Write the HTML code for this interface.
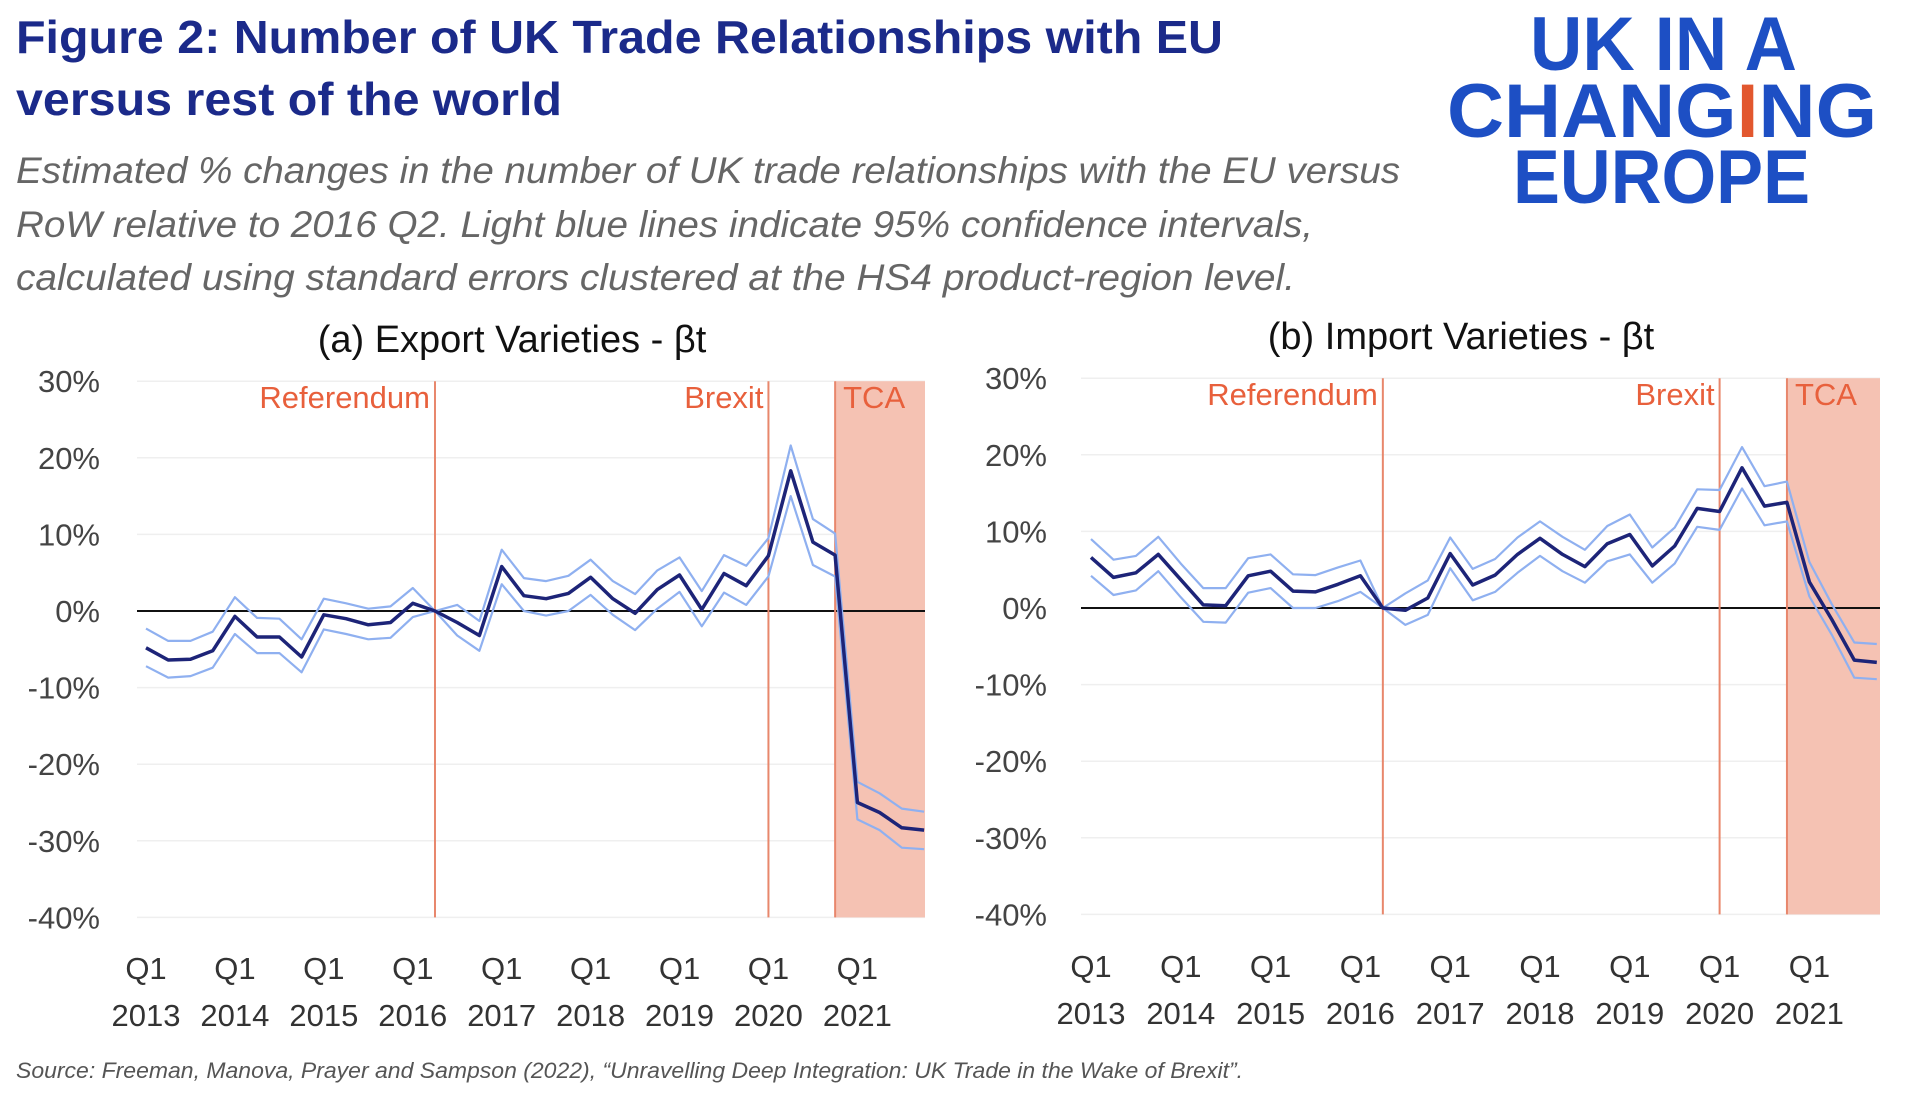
<!DOCTYPE html>
<html><head><meta charset="utf-8"><style>
html,body{margin:0;padding:0;background:#fff;}
svg{display:block;font-family:"Liberation Sans",sans-serif;}
</style></head><body>
<svg id="fig" width="1920" height="1110" viewBox="0 0 1920 1110">
<g>
<text x="16" y="53" font-size="46" font-weight="bold" fill="#1b2a8a" textLength="1207" lengthAdjust="spacingAndGlyphs">Figure 2: Number of UK Trade Relationships with EU</text>
<text x="16" y="115" font-size="46" font-weight="bold" fill="#1b2a8a" textLength="546" lengthAdjust="spacingAndGlyphs">versus rest of the world</text>
<text x="16" y="183" font-size="37" font-style="italic" fill="#666" textLength="1384" lengthAdjust="spacingAndGlyphs">Estimated % changes in the number of UK trade relationships with the EU versus</text>
<text x="16" y="237" font-size="37" font-style="italic" fill="#666" textLength="1297" lengthAdjust="spacingAndGlyphs">RoW relative to 2016 Q2. Light blue lines indicate 95% confidence intervals,</text>
<text x="16" y="290" font-size="37" font-style="italic" fill="#666" textLength="1279" lengthAdjust="spacingAndGlyphs">calculated using standard errors clustered at the HS4 product-region level.</text>
</g>
<g font-weight="bold" fill="#1d4fc4">
<text x="1530" y="70" font-size="76" textLength="267" lengthAdjust="spacingAndGlyphs">UK IN A</text>
<text x="1447" y="137" font-size="76" textLength="430" lengthAdjust="spacingAndGlyphs">CHANG<tspan fill="#e2572e">I</tspan>NG</text>
<text x="1513" y="203" font-size="76" textLength="297" lengthAdjust="spacingAndGlyphs">EUROPE</text>
</g>
<g id="chartA"></g>
<g id="chartB"></g>
<text x="16" y="1078" font-size="22" font-style="italic" fill="#555" textLength="1227" lengthAdjust="spacingAndGlyphs">Source: Freeman, Manova, Prayer and Sampson (2022), “Unravelling Deep Integration: UK Trade in the Wake of Brexit”.</text>
</svg>
<script>
const yTicks = [30, 20, 10, 0, -10, -20, -30, -40];
const yearLabels = ["2013","2014","2015","2016","2017","2018","2019","2020","2021"];
const exportMain = [-4.8,-6.4,-6.3,-5.2,-0.7,-3.4,-3.4,-6.0,-0.5,-1.0,-1.8,-1.5,1.0,0,-1.5,-3.2,5.8,2.0,1.6,2.3,4.4,1.6,-0.3,2.8,4.7,0.2,4.9,3.3,7.2,18.3,9.0,7.3,-25.0,-26.3,-28.3,-28.6];
const exportUpper = [-2.3,-3.9,-3.9,-2.7,1.8,-0.9,-1.0,-3.7,1.6,1.0,0.3,0.6,3.0,0,0.8,-1.3,8.0,4.3,3.9,4.6,6.7,3.9,2.2,5.3,7.0,2.6,7.3,5.9,9.5,21.6,12.0,10.1,-22.3,-23.8,-25.8,-26.2];
const exportLower = [-7.2,-8.7,-8.5,-7.4,-3.0,-5.5,-5.5,-8.0,-2.4,-3.0,-3.7,-3.5,-0.8,0,-3.2,-5.2,3.5,0.0,-0.6,0.0,2.1,-0.5,-2.5,0.3,2.5,-2.0,2.4,0.8,4.5,15.0,6.0,4.5,-27.2,-28.6,-30.9,-31.1];
const importMain = [6.6,4.0,4.6,7.0,3.7,0.4,0.3,4.2,4.8,2.2,2.1,3.1,4.2,0,-0.3,1.3,7.1,3.0,4.3,7.0,9.1,7.0,5.4,8.4,9.6,5.5,8.1,13.0,12.6,18.3,13.3,13.8,3.4,-1.5,-6.8,-7.1];
const importUpper = [9.0,6.3,6.8,9.3,5.8,2.6,2.6,6.5,7.0,4.4,4.3,5.3,6.2,0,1.9,3.6,9.2,5.1,6.4,9.2,11.3,9.3,7.6,10.7,12.2,7.9,10.5,15.5,15.4,21.0,15.9,16.5,6.0,0.5,-4.5,-4.7];
const importLower = [4.2,1.7,2.3,4.8,1.4,-1.8,-1.9,2.0,2.6,0.0,0.0,0.9,2.1,0,-2.2,-0.9,5.2,1.0,2.1,4.6,6.8,4.8,3.3,6.1,7.0,3.3,5.8,10.6,10.2,15.6,10.8,11.3,1.5,-3.5,-9.1,-9.3];
const eventNames = ["Referendum","Brexit","TCA"];
const eventQuarters = [13, 28, 31];

const NS = "http://www.w3.org/2000/svg";
function mk(parent, tag, attrs, text){
  const e = document.createElementNS(NS, tag);
  for (const k in attrs) e.setAttribute(k, attrs[k]);
  if (text !== undefined) e.textContent = text;
  parent.appendChild(e);
  return e;
}
function drawChart(g, cfg){
  const xS = q => cfg.x0 + q * cfg.dq;
  const yS = v => cfg.yZero - v * cfg.dy;
  const right = cfg.right;
  yTicks.forEach(t => {
    if (t !== 0) {
      const l = mk(g, "line", {x1: cfg.left, x2: right, y1: yS(t), y2: yS(t), stroke: "#efefef", "stroke-width": 1.5});
      
      
    }
    const tx = mk(g, "text", {x: cfg.tickRight, y: yS(t) + 11, "text-anchor": "end", "font-size": 31, fill: "#444"}, t + "%");
    
    
  });
  const sh = mk(g, "rect", {x: xS(eventQuarters[2]), y: yS(30), width: right - xS(eventQuarters[2]), height: yS(-40) - yS(30), fill: "#f5c2b3"});
  
  
  const z = mk(g, "line", {x1: cfg.left, x2: right, y1: yS(0), y2: yS(0), stroke: "#111", "stroke-width": 2});
  
  
  eventQuarters.forEach((q, i) => {
    const l = mk(g, "line", {x1: xS(q), x2: xS(q), y1: yS(30), y2: yS(-40), stroke: "#e8876c", "stroke-width": 2});
    
    
    const isT = i === 2;
    const tx = mk(g, "text", {x: isT ? xS(q) + 8 : xS(q) - 5, y: yS(30) + 27, "text-anchor": isT ? "start" : "end", "font-size": 31, fill: "#e8603c"}, eventNames[i]);
    
    
  });
  const path = arr => arr.map((v, i) => (i ? "L" : "M") + xS(i).toFixed(1) + "," + yS(v).toFixed(1)).join(" ");
  [cfg.upper, cfg.lower].forEach((arr, k) => {
    const p = mk(g, "path", {d: path(arr), fill: "none", stroke: "#8fb0f0", "stroke-width": 2.2, "stroke-linejoin": "round"});
    
    
  });
  const m = mk(g, "path", {d: path(cfg.main), fill: "none", stroke: "#1d2478", "stroke-width": 3.5, "stroke-linejoin": "round"});
  
  
  yearLabels.forEach((y, i) => {
    const x = xS(i * 4);
    const a = mk(g, "text", {x: x, y: cfg.xLabY, "text-anchor": "middle", "font-size": 31, fill: "#333"}, "Q1");
    
    
    const b = mk(g, "text", {x: x, y: cfg.xLabY + 47, "text-anchor": "middle", "font-size": 31, fill: "#333"}, y);
    
    
  });
  const t = mk(g, "text", {x: cfg.titleX, y: cfg.titleY, "text-anchor": "middle", "font-size": 38, fill: "#111"}, cfg.title);
  
  
}
drawChart(document.getElementById("chartA"), {
  main: exportMain, upper: exportUpper, lower: exportLower,
  x0: 146, dq: 22.23, left: 137, right: 925, yZero: 611, dy: 7.66,
  tickRight: 100, xLabY: 979, titleX: 512, titleY: 352, title: "(a) Export Varieties - βt"
});
drawChart(document.getElementById("chartB"), {
  main: importMain, upper: importUpper, lower: importLower,
  x0: 1091, dq: 22.45, left: 1081, right: 1880, yZero: 608, dy: 7.66,
  tickRight: 1047, xLabY: 977, titleX: 1461, titleY: 349, title: "(b) Import Varieties - βt"
});
</script>
</body></html>
